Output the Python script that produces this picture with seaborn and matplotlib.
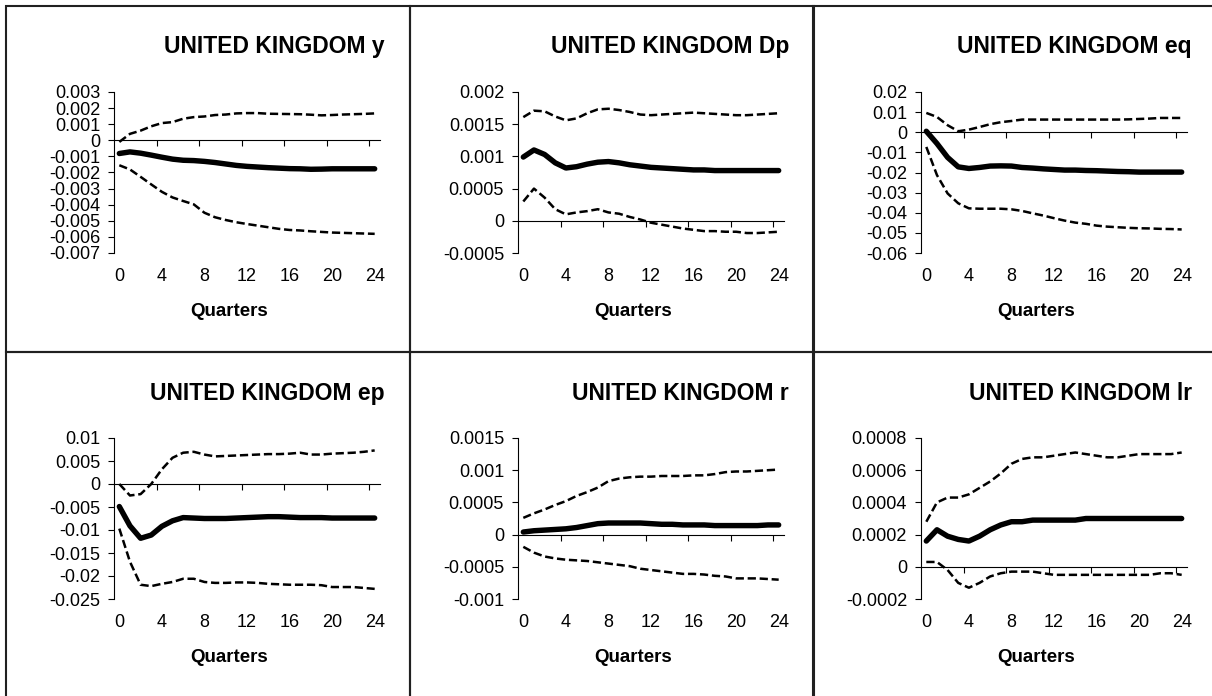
import numpy as np
import pandas as pd
import matplotlib
matplotlib.use("Agg")
import matplotlib.pyplot as plt
import seaborn as sns
from matplotlib.patches import Rectangle

# Impulse responses for the United Kingdom over 24 quarters:
# point estimate (solid) and lower / upper bands (dashed).
quarters = list(range(25))
variables = ["y", "Dp", "eq", "ep", "r", "lr"]
titles = ["UNITED KINGDOM " + v for v in variables]

y_mid = [-0.00082, -0.00072, -0.00080, -0.00092, -0.00105, -0.00117, -0.00124, -0.00126,
         -0.00131, -0.00138, -0.00147, -0.00156, -0.00162, -0.00166, -0.00170, -0.00173,
         -0.00176, -0.00177, -0.00180, -0.00179, -0.00177, -0.00177, -0.00177, -0.00177, -0.00177]
y_up = [-0.00010, 0.00040, 0.00060, 0.00087, 0.00107, 0.00113, 0.00134, 0.00144,
        0.00148, 0.00157, 0.00160, 0.00167, 0.00169, 0.00169, 0.00165, 0.00164,
        0.00163, 0.00162, 0.00159, 0.00155, 0.00157, 0.00160, 0.00162, 0.00164, 0.00167]
y_lo = [-0.00155, -0.00181, -0.00227, -0.00274, -0.00320, -0.00355, -0.00377, -0.00398,
        -0.00450, -0.00478, -0.00495, -0.00509, -0.00520, -0.00530, -0.00540, -0.00550,
        -0.00557, -0.00560, -0.00565, -0.00569, -0.00573, -0.00575, -0.00577, -0.00579, -0.00581]

dp_mid = [0.00099, 0.00110, 0.00103, 0.00090, 0.00082, 0.00084, 0.00088, 0.00091,
          0.00092, 0.00090, 0.00087, 0.00085, 0.00083, 0.00082, 0.00081, 0.00080,
          0.00079, 0.00079, 0.00078, 0.00078, 0.00078, 0.00078, 0.00078, 0.00078, 0.00078]
dp_up = [0.00161, 0.00171, 0.00170, 0.00162, 0.00156, 0.00159, 0.00167, 0.00173,
         0.00174, 0.00172, 0.00169, 0.00165, 0.00164, 0.00165, 0.00166, 0.00167,
         0.00168, 0.00167, 0.00166, 0.00165, 0.00164, 0.00164, 0.00165, 0.00166, 0.00167]
dp_lo = [0.00030, 0.00050, 0.00036, 0.00018, 0.00010, 0.00013, 0.00015, 0.00018,
         0.00013, 0.00011, 0.00006, 0.00002, -0.00003, -0.00006, -0.00009, -0.00012,
         -0.00014, -0.00016, -0.00016, -0.00017, -0.00017, -0.00019, -0.00019, -0.00018, -0.00017]

eq_mid = [0.0005, -0.0056, -0.0125, -0.0172, -0.0180, -0.0175, -0.0168, -0.0167,
          -0.0168, -0.0175, -0.0178, -0.0182, -0.0185, -0.0188, -0.0188, -0.0190,
          -0.0191, -0.0193, -0.0195, -0.0196, -0.0198, -0.0198, -0.0198, -0.0198, -0.0198]
eq_up = [0.0096, 0.0076, 0.0035, 0.0005, 0.0013, 0.0026, 0.0040, 0.0050,
         0.0056, 0.0063, 0.0063, 0.0063, 0.0063, 0.0063, 0.0063, 0.0063,
         0.0063, 0.0063, 0.0063, 0.0064, 0.0066, 0.0068, 0.0071, 0.0071, 0.0071]
eq_lo = [-0.0073, -0.0213, -0.0304, -0.0353, -0.0378, -0.0380, -0.0380, -0.0380,
         -0.0383, -0.0391, -0.0403, -0.0414, -0.0427, -0.0439, -0.0449, -0.0455,
         -0.0464, -0.0469, -0.0472, -0.0475, -0.0477, -0.0478, -0.0480, -0.0481, -0.0483]

ep_mid = [-0.0049, -0.0091, -0.0118, -0.0111, -0.0092, -0.0080, -0.0073, -0.0074,
          -0.0075, -0.0075, -0.0075, -0.0074, -0.0073, -0.0072, -0.0071, -0.0071,
          -0.0072, -0.0073, -0.0073, -0.0073, -0.0074, -0.0074, -0.0074, -0.0074, -0.0074]
ep_up = [0.0000, -0.0025, -0.0022, 0.0000, 0.0032, 0.0057, 0.0068, 0.0070,
         0.0064, 0.0060, 0.0061, 0.0062, 0.0063, 0.0064, 0.0065, 0.0065,
         0.0066, 0.0068, 0.0064, 0.0064, 0.0066, 0.0067, 0.0068, 0.0070, 0.0073]
ep_lo = [-0.0097, -0.0169, -0.0219, -0.0222, -0.0217, -0.0213, -0.0206, -0.0206,
         -0.0213, -0.0215, -0.0215, -0.0214, -0.0214, -0.0215, -0.0217, -0.0218,
         -0.0219, -0.0219, -0.0219, -0.0220, -0.0224, -0.0224, -0.0224, -0.0226, -0.0228]

r_mid = [0.00004, 0.00006, 0.00007, 0.00008, 0.00009, 0.00011, 0.00014, 0.00017,
         0.00018, 0.00018, 0.00018, 0.00018, 0.00017, 0.00016, 0.00016, 0.00015,
         0.00015, 0.00015, 0.00014, 0.00014, 0.00014, 0.00014, 0.00014, 0.00015, 0.00015]
r_up = [0.00026, 0.00033, 0.00039, 0.00046, 0.00052, 0.00060, 0.00066, 0.00073,
        0.00083, 0.00087, 0.00089, 0.00090, 0.00090, 0.00091, 0.00091, 0.00091,
        0.00092, 0.00092, 0.00094, 0.00097, 0.00098, 0.00098, 0.00099, 0.00100, 0.00101]
r_lo = [-0.00019, -0.00028, -0.00034, -0.00037, -0.00039, -0.00040, -0.00041, -0.00043,
        -0.00045, -0.00047, -0.00049, -0.00053, -0.00055, -0.00057, -0.00059, -0.00061,
        -0.00061, -0.00062, -0.00064, -0.00065, -0.00068, -0.00068, -0.00068, -0.00069, -0.00070]

lr_mid = [0.00016, 0.00023, 0.00019, 0.00017, 0.00016, 0.00019, 0.00023, 0.00026,
          0.00028, 0.00028, 0.00029, 0.00029, 0.00029, 0.00029, 0.00029, 0.00030,
          0.00030, 0.00030, 0.00030, 0.00030, 0.00030, 0.00030, 0.00030, 0.00030, 0.00030]
lr_up = [0.00028, 0.00040, 0.00043, 0.00043, 0.00045, 0.00049, 0.00053, 0.00058,
         0.00064, 0.00067, 0.00068, 0.00068, 0.00069, 0.00070, 0.00071, 0.00070,
         0.00069, 0.00068, 0.00068, 0.00069, 0.00070, 0.00070, 0.00070, 0.00070, 0.00071]
lr_lo = [0.00003, 0.00003, -0.00002, -0.00010, -0.00013, -0.00010, -0.00006, -0.00004,
         -0.00003, -0.00003, -0.00003, -0.00004, -0.00005, -0.00005, -0.00005, -0.00005,
         -0.00005, -0.00005, -0.00005, -0.00005, -0.00005, -0.00005, -0.00004, -0.00004, -0.00005]

mids = [y_mid, dp_mid, eq_mid, ep_mid, r_mid, lr_mid]
uppers = [y_up, dp_up, eq_up, ep_up, r_up, lr_up]
lowers = [y_lo, dp_lo, eq_lo, ep_lo, r_lo, lr_lo]

y_tick_values = [
    [-0.007, -0.006, -0.005, -0.004, -0.003, -0.002, -0.001, 0, 0.001, 0.002, 0.003],
    [-0.0005, 0, 0.0005, 0.001, 0.0015, 0.002],
    [-0.06, -0.05, -0.04, -0.03, -0.02, -0.01, 0, 0.01, 0.02],
    [-0.025, -0.02, -0.015, -0.01, -0.005, 0, 0.005, 0.01],
    [-0.001, -0.0005, 0, 0.0005, 0.001, 0.0015],
    [-0.0002, 0, 0.0002, 0.0004, 0.0006, 0.0008],
]
x_tick_values = [0, 4, 8, 12, 16, 20, 24]
x_label = "Quarters"

sns.set_theme(style="white")
plt.rcParams["font.family"] = ["Liberation Sans", "DejaVu Sans"]

W, H = 1212, 696
fig = plt.figure(figsize=(W / 100, H / 100), dpi=100)
fig.patch.set_facecolor("white")

panel_x = [6, 410, 813]
panel_y = [6, 352]
panel_w, panel_h = 403.5, 346

TICK_FS = 13
TITLE_FS = 16.5
XLAB_FS = 13.5


def fx(px):
    return px / W


def fy(py):
    return 1 - py / H


for k, var in enumerate(variables):
    row, col = divmod(k, 3)
    bx, by = panel_x[col], panel_y[row]

    # panel frame
    fig.add_artist(Rectangle((fx(bx), fy(by + panel_h)), panel_w / W, panel_h / H,
                             transform=fig.transFigure, fill=False,
                             edgecolor="#202020", linewidth=1.5, zorder=0))

    ax = fig.add_axes([fx(bx + 108), fy(by + 86 + 161), 266 / W, 161 / H])
    ax.set_facecolor("none")

    df = pd.DataFrame({"quarter": quarters, "mid": mids[k],
                       "upper": uppers[k], "lower": lowers[k]})
    for band in ["upper", "lower"]:
        sns.lineplot(data=df, x="quarter", y=band, ax=ax, color="black",
                     linewidth=1.8, linestyle=(0, (3.3, 1.5)))
    sns.lineplot(data=df, x="quarter", y="mid", ax=ax, color="black",
                 linewidth=3.9, solid_capstyle="round", solid_joinstyle="round")
    ax.set_xlabel("")
    ax.set_ylabel("")

    yt = y_tick_values[k]
    ymin, ymax = yt[0], yt[-1]
    ax.set_ylim(ymin, ymax)
    ax.set_xlim(-0.5, 24.5)

    ax.set_yticks(yt)
    ax.set_yticklabels([f"{v:g}" for v in yt], fontsize=TICK_FS, color="black")
    ax.tick_params(axis="y", which="major", left=True, length=4, width=0.8,
                   color="black", direction="out", pad=6)

    ax.set_xticks(x_tick_values)
    ax.set_xticklabels([str(v) for v in x_tick_values], fontsize=TICK_FS, color="black")
    ax.tick_params(axis="x", which="major", bottom=True, length=0, pad=11)

    for side in ["top", "right", "bottom"]:
        ax.spines[side].set_visible(False)
    ax.spines["left"].set_color("black")
    ax.spines["left"].set_linewidth(0.8)

    # category axis crossing at zero, with marks between category groups
    zero_frac = (0 - ymin) / (ymax - ymin)
    sec = ax.secondary_xaxis(zero_frac)
    sec.set_alignment("bottom")
    sec.set_xticks([v - 0.5 for v in x_tick_values[1:]])
    sec.tick_params(axis="x", length=4, width=0.8, color="black", direction="out",
                    labelbottom=False, labeltop=False)
    for s in sec.spines.values():
        s.set_color("black")
        s.set_linewidth(0.8)

    fig.text(fx(bx + 379), fy(by + 41), titles[k], ha="right", va="center",
             fontsize=TITLE_FS, fontweight="bold", color="black")
    fig.text(fx(bx + 223), fy(by + 305), x_label, ha="center", va="center",
             fontsize=XLAB_FS, fontweight="bold", color="black")

fig.savefig("out.png", dpi=100, facecolor="white")
